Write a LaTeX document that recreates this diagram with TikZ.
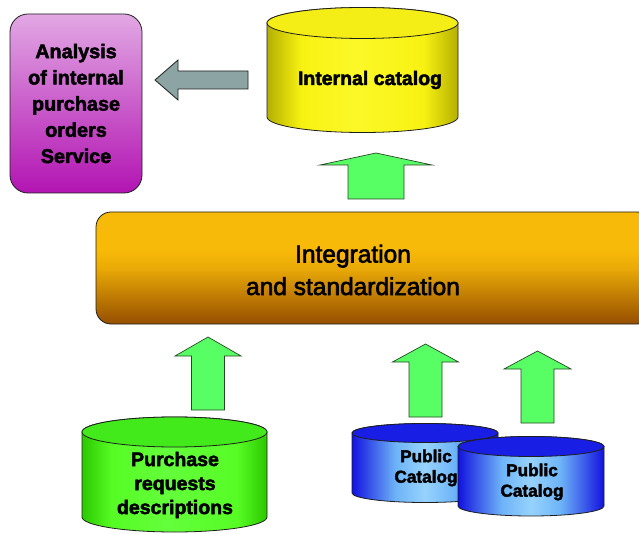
\documentclass[tikz,border=0pt]{standalone}
\usepackage{fontspec}
\setmainfont{Liberation Sans}
\newfontfamily\heavyfont[FakeBold=2.5]{Liberation Sans Bold}
\newfontfamily\mediumfont[FakeBold=2.5]{Liberation Sans}
\usetikzlibrary{positioning}

\definecolor{outl}{RGB}{30,30,30}
\definecolor{arrowgreen}{RGB}{88,255,100}
\definecolor{arrowline}{RGB}{40,70,40}
\definecolor{arrowgray}{RGB}{140,164,164}
\definecolor{purptop}{RGB}{226,168,228}
\definecolor{purpbot}{RGB}{178,20,178}
\definecolor{orngtop}{RGB}{248,186,8}
\definecolor{orngbot}{RGB}{150,78,0}
\definecolor{yelledge}{RGB}{180,176,0}
\definecolor{yellmid}{RGB}{248,242,18}
\definecolor{yellhigh}{RGB}{252,248,40}
\definecolor{yelltop}{RGB}{244,238,22}
\definecolor{grnedge}{RGB}{44,200,0}
\definecolor{grnmid}{RGB}{86,252,36}
\definecolor{grnhigh}{RGB}{100,255,60}
\definecolor{grntop}{RGB}{66,234,28}
\definecolor{bluedge}{RGB}{18,18,222}
\definecolor{blumid}{RGB}{110,180,248}
\definecolor{bluhigh}{RGB}{150,210,252}
\definecolor{blutop}{RGB}{24,30,228}

% orange panel: flat upper part, darkening towards the bottom
\pgfdeclareverticalshading{orangepanel}{100bp}{%
  color(0bp)=(orngbot); color(25bp)=(orngbot);
  color(50bp)=(orngtop!85!orngbot); color(58bp)=(orngtop);
  color(75bp)=(orngtop); color(100bp)=(orngtop)}

% drum sides: dark rims, bright body
\pgfdeclarehorizontalshading{yellside}{100bp}{%
  color(0bp)=(yelledge); color(25bp)=(yelledge); color(34bp)=(yellmid);
  color(48bp)=(yellhigh); color(66bp)=(yellmid); color(75bp)=(yelledge); color(100bp)=(yelledge)}
\pgfdeclarehorizontalshading{grnside}{100bp}{%
  color(0bp)=(grnedge); color(25bp)=(grnedge); color(33bp)=(grnmid);
  color(48bp)=(grnhigh); color(67bp)=(grnmid); color(75bp)=(grnedge); color(100bp)=(grnedge)}
\pgfdeclarehorizontalshading{bluside}{100bp}{%
  color(0bp)=(bluedge); color(25bp)=(bluedge); color(40bp)=(blumid);
  color(50bp)=(bluhigh); color(60bp)=(blumid); color(75bp)=(bluedge); color(100bp)=(bluedge)}

% cylinder: #1 centre x, #2 x radius, #3 top y, #4 bottom y, #5 y radius, #6 colour prefix
\newcommand\drumshape[6]{%
  \path[draw=outl, line width=0.8pt, shading=#6side]
    (#1-#2,#3) -- (#1-#2,#4)
    arc[start angle=180, end angle=360, x radius=#2pt, y radius=#5pt]
    -- (#1+#2,#3)
    arc[start angle=0, end angle=180, x radius=#2pt, y radius=#5pt] -- cycle;
  \path[draw=outl, line width=0.8pt, fill=#6top] (#1,#3) ellipse[x radius=#2pt, y radius=#5pt];
}

% upward block arrow: #1 tip x, #2 tip y, #3 shoulder y, #4 half head width, #5 half shaft width, #6 foot y
\newcommand\uparrowblock[6]{%
  \path[blockarrow]
    (#1,#2) -- (#1+#4,#3) -- (#1+#5,#3) -- (#1+#5,#6)
    -- (#1-#5,#6) -- (#1-#5,#3) -- (#1-#4,#3) -- cycle;
}

\tikzset{
  blockarrow/.style={draw=arrowline, line width=0.7pt, fill=arrowgreen},
  boldlabel/.style={font=\heavyfont\fontsize{19.5}{24}\selectfont, align=center, text=black, inner sep=0pt},
  smalllabel/.style={font=\heavyfont\fontsize{17.2}{20.5}\selectfont, align=center, text=black, inner sep=0pt},
}

\begin{document}
\begin{tikzpicture}[x=1pt, y=-1pt]
\useasboundingbox (0,0) rectangle (639,534);
\clip (0,0) rectangle (639,534);

% service box
\node[draw=outl, line width=0.8pt, rounded corners=18pt,
      top color=purptop, bottom color=purpbot,
      minimum width=132pt, minimum height=179pt, inner sep=0pt,
      font=\heavyfont\fontsize{19.8}{26.2}\selectfont, align=center]
  (service) at (76,103.5) {Analysis\\of internal\\purchase\\orders\\Service};

% arrow from the catalog towards the service
\path[draw=outl, line width=0.8pt, fill=arrowgray]
  (155,80) -- (178,60) -- (178,71) -- (248,71) -- (248,89) -- (178,89) -- (178,100) -- cycle;

% internal catalog
\drumshape{362.5}{95.5}{23}{117}{15.5}{yell}
\node[boldlabel] (internal) at (370,80) {Internal catalog};

% arrow into the internal catalog
\uparrowblock{376}{153}{165}{56}{28}{199}

% integration panel
\node[draw=outl, line width=0.8pt, rounded corners=15pt, shading=orangepanel,
      minimum width=556pt, minimum height=112pt, inner sep=0pt]
  (integ) at (374,268) {};
\node[font=\mediumfont\fontsize{24.5}{32.5}\selectfont, align=center, inner sep=0pt]
  (integtext) at (353,270) {Integration\\and standardization};

% arrows into the integration panel
\uparrowblock{208}{337}{356}{33}{16.5}{410}
\uparrowblock{425.5}{344}{362}{33}{16.5}{417}
\uparrowblock{537.5}{351}{369}{33.5}{16.5}{423}

% purchase requests
\drumshape{174.5}{92.5}{432}{517}{15}{grn}
\node[boldlabel] (requests) at (175,485) {Purchase\\requests\\descriptions};

% public catalogs
\drumshape{425}{73}{433}{493}{9.5}{blu}
\node[smalllabel] (pub1) at (426,468) {Public\\Catalog};
\drumshape{531}{73}{446.5}{506}{10}{blu}
\node[smalllabel] (pub2) at (532,482) {Public\\Catalog};
\end{tikzpicture}
\end{document}
